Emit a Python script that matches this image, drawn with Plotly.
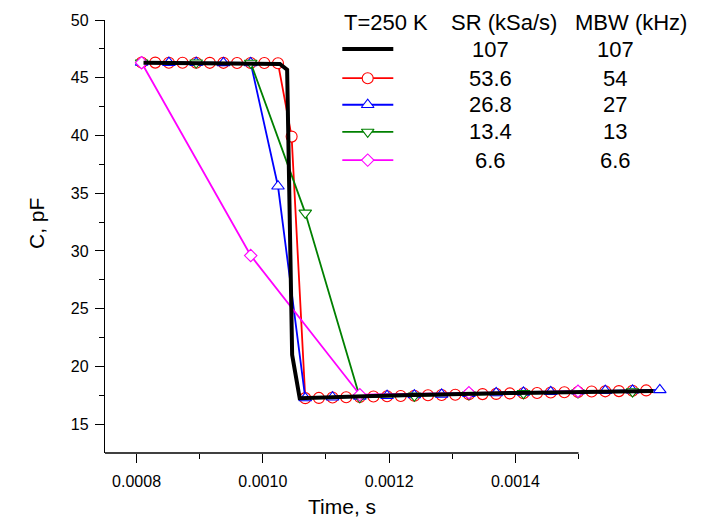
import plotly.graph_objects as go

# ---------------- data ----------------
t_black = [0.000811, 0.000900, 0.001000, 0.001027, 0.0010385, 0.0010464, 0.0010584,
           0.001200, 0.001400, 0.0016185]
c_black = [46.3, 46.28, 46.25, 46.2, 45.7, 21.0, 17.24, 17.47, 17.7, 17.88]

t_red = [0.0008080, 0.0008296, 0.0008512, 0.0008728, 0.0008944, 0.0009160, 0.0009376,
         0.0009592, 0.0009808, 0.0010024, 0.0010240, 0.0010456, 0.0010672, 0.0010888,
         0.0011104, 0.0011320, 0.0011536, 0.0011752, 0.0011968, 0.0012184, 0.0012400,
         0.0012616, 0.0012832, 0.0013048, 0.0013264, 0.0013480, 0.0013696, 0.0013912,
         0.0014128, 0.0014344, 0.0014560, 0.0014776, 0.0014992, 0.0015208, 0.0015424,
         0.0015640, 0.0015856, 0.0016072]
c_red = [46.32, 46.31, 46.3, 46.3, 46.3, 46.29, 46.29, 46.28, 46.28, 46.27, 46.26,
         39.9,
         17.25, 17.27, 17.31, 17.33, 17.35, 17.39, 17.41, 17.43, 17.46, 17.5, 17.52,
         17.54, 17.58, 17.6, 17.62, 17.66, 17.68, 17.7, 17.74, 17.76, 17.78, 17.82,
         17.84, 17.86, 17.89, 17.92]

t_blue = [0.0008080, 0.0008512, 0.0008944, 0.0009376, 0.0009808, 0.0010240, 0.0010672,
          0.0011104, 0.0011536, 0.0011968, 0.0012400, 0.0012832, 0.0013264, 0.0013696,
          0.0014128, 0.0014560, 0.0014992, 0.0015424, 0.0015856, 0.0016288]
c_blue = [46.32, 46.31, 46.3, 46.29, 46.28, 35.6, 17.26, 17.33, 17.4, 17.46, 17.52,
          17.58, 17.64, 17.7, 17.75, 17.8, 17.85, 17.89, 17.93, 17.97]

t_green = [0.0008080, 0.0008944, 0.0009808, 0.0010672, 0.0011536, 0.0012400,
           0.0013264, 0.0014128, 0.0014992, 0.0015856]
c_green = [46.3, 46.3, 46.28, 33.3, 17.32, 17.46, 17.57, 17.66, 17.74, 17.82]

t_magenta = [0.0008080, 0.0009808, 0.0011536, 0.0013264, 0.0014992]
c_magenta = [46.3, 29.6, 17.55, 17.72, 17.85]

series_names = ["107", "53.6", "26.8", "13.4", "6.6"]
mbw_labels = ["107", "54", "27", "13", "6.6"]
header = ["T=250 K", "SR (kSa/s)", "MBW (kHz)"]

x_tick_vals = [0.0008, 0.0010, 0.0012, 0.0014]
x_tick_text = ["0.0008", "0.0010", "0.0012", "0.0014"]
x_minor_vals = [0.0009, 0.0011, 0.0013, 0.0015]
y_tick_vals = [15, 20, 25, 30, 35, 40, 45, 50]
y_minor_vals = [17.5, 22.5, 27.5, 32.5, 37.5, 42.5, 47.5]

# ---------------- layout geometry ----------------
W, H = 705, 521
L, R, T, B = 105, 15, 17.5, 68.3
PW = W - L - R
PH = H - T - B
X_RANGE = [0.00075, 0.0016766]
Y_RANGE = [12.5, 50]

def pxx(px):
    return (px - L) / PW

def pxy(py):
    return (H - B - py) / PH

FONT = "Arial, 'Liberation Sans', sans-serif"
LW = 1.8
MLW = 1.1

fig = go.Figure()

styles = [
    ("red", "circle", 11, t_red, c_red),
    ("blue", "triangle-up", 11, t_blue, c_blue),
    ("green", "triangle-down", 11, t_green, c_green),
    ("magenta", "diamond", 9.5, t_magenta, c_magenta),
]
for color, sym, size, xs, ys in styles:
    fig.add_trace(go.Scatter(
        x=xs, y=ys, mode="lines+markers",
        line=dict(color=color, width=LW),
        marker=dict(symbol=sym, size=size, color="white", line=dict(width=MLW, color=color)),
        showlegend=False, cliponaxis=False,
    ))

fig.add_trace(go.Scatter(
    x=t_black, y=c_black, mode="lines",
    line=dict(color="black", width=4), showlegend=False,
))

# ---------------- legend (pixel coordinates on overlay axes) ----------------
rows_y = [46.7, 76.0, 102.7, 130.0, 158.3]
leg_colors = ["black", "red", "blue", "green", "magenta"]
leg_syms = [None, "circle", "triangle-up", "triangle-down", "diamond"]
leg_sizes = [0, 11, 11, 11, 9.5]
for i, (col, sym) in enumerate(zip(leg_colors, leg_syms)):
    fig.add_trace(go.Scatter(
        x=[342.3, 393.3], y=[rows_y[i], rows_y[i]], mode="lines",
        line=dict(color=col, width=4 if i == 0 else LW),
        xaxis="x2", yaxis="y2", showlegend=False,
    ))
    if sym:
        fig.add_trace(go.Scatter(
            x=[367.7], y=[rows_y[i]], mode="markers",
            marker=dict(symbol=sym, size=leg_sizes[i], color="white",
                        line=dict(width=MLW, color=col)),
            xaxis="x2", yaxis="y2", showlegend=False,
        ))

annotations = []
hdr_x = [385.5, 503.8, 630.8]
for txt, hx in zip(header, hdr_x):
    annotations.append(dict(x=pxx(hx), y=pxy(20), xref="paper", yref="paper",
                            text=txt, showarrow=False, xanchor="center", yanchor="middle",
                            font=dict(family=FONT, size=22, color="black")))
for i in range(5):
    annotations.append(dict(x=pxx(490), y=pxy(rows_y[i]), xref="paper", yref="paper",
                            text=series_names[i], showarrow=False, xanchor="center",
                            yanchor="middle", font=dict(family=FONT, size=22, color="black")))
    annotations.append(dict(x=pxx(615), y=pxy(rows_y[i]), xref="paper", yref="paper",
                            text=mbw_labels[i], showarrow=False, xanchor="center",
                            yanchor="middle", font=dict(family=FONT, size=22, color="black")))

# axis titles
annotations.append(dict(x=pxx(342), y=pxy(506), xref="paper", yref="paper",
                        text="Time, s", showarrow=False, xanchor="center", yanchor="middle",
                        font=dict(family=FONT, size=21, color="black")))
annotations.append(dict(x=pxx(37), y=pxy(222.5), xref="paper", yref="paper",
                        text="C, pF", showarrow=False, xanchor="center", yanchor="middle",
                        textangle=-90, font=dict(family=FONT, size=21, color="black")))

fig.update_layout(
    width=W, height=H,
    margin=dict(l=L, r=R, t=T, b=B, pad=0),
    plot_bgcolor="white", paper_bgcolor="white",
    font=dict(family=FONT, size=16, color="black"),
    xaxis=dict(
        range=X_RANGE, showline=False, showgrid=False, zeroline=False,
        tickmode="array", tickvals=x_tick_vals, ticktext=x_tick_text,
        ticks="outside", ticklen=9, tickwidth=1.3, tickcolor="black",
        ticklabelstandoff=5,
        tickfont=dict(family=FONT, size=16, color="black"),
        minor=dict(tickmode="array", tickvals=x_minor_vals, ticks="outside",
                   ticklen=4.5, tickwidth=1.3, tickcolor="black", showgrid=False),
    ),
    yaxis=dict(
        range=Y_RANGE, showline=True, linecolor="black", linewidth=1.3,
        showgrid=False, zeroline=False,
        tickmode="array", tickvals=y_tick_vals,
        ticks="outside", ticklen=9, tickwidth=1.3, tickcolor="black",
        ticklabelstandoff=3,
        tickfont=dict(family=FONT, size=16, color="black"),
        minor=dict(tickmode="array", tickvals=y_minor_vals, ticks="outside",
                   ticklen=4.5, tickwidth=1.3, tickcolor="black", showgrid=False),
    ),
    xaxis2=dict(overlaying="x", range=[L, W - R], visible=False),
    yaxis2=dict(overlaying="y", range=[H - B, T], visible=False),
    shapes=[dict(type="line", xref="x", yref="paper", x0=X_RANGE[0], x1=0.0015,
                 y0=0, y1=0, line=dict(color="black", width=1.3))],
    annotations=annotations,
)

fig.write_html("out.html")
